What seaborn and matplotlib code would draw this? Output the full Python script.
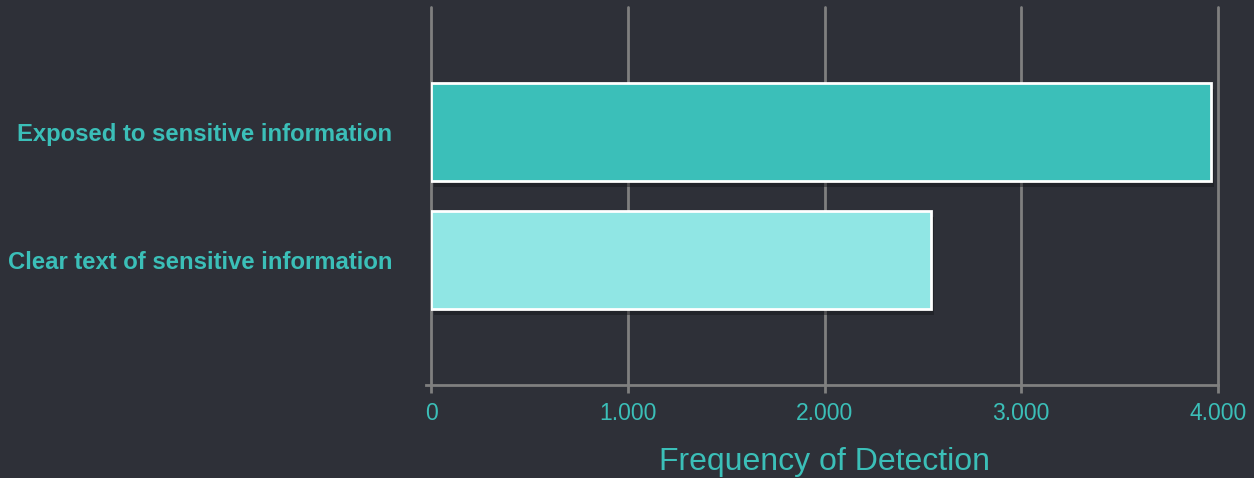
import matplotlib
matplotlib.use("Agg")
import matplotlib.pyplot as plt
import matplotlib.patheffects as pe
import seaborn as sns
import pandas as pd

categories = ["Exposed to sensitive information", "Clear text of sensitive information"]
values = [3964, 2540]
bar_colors = ["#3bbfb9", "#90e6e4"]
x_ticks = [0, 1000, 2000, 3000, 4000]
x_tick_labels = ["0", "1.000", "2.000", "3.000", "4.000"]
x_label = "Frequency of Detection"

BG = "#2e3038"
TEAL = "#3bbfb8"
GRID = "#7f7f7f"

sns.set_theme(style="dark")
plt.rcParams["font.family"] = ["Liberation Sans", "DejaVu Sans"]

df = pd.DataFrame({"category": categories, "value": values})

fig = plt.figure(figsize=(12.54, 4.78), dpi=100, facecolor=BG)
ax = fig.add_axes([431/1254, (478-385)/478, (1218-431)/1254, (385-7)/478])
ax.set_facecolor(BG)

sns.barplot(data=df, y="category", x="value", hue="category", palette=bar_colors,
            orient="h", width=0.766, legend=False, ax=ax, zorder=3, saturation=1,
            edgecolor="white", linewidth=2)

for p in ax.patches:
    p.set_path_effects([pe.SimplePatchShadow(offset=(2, -4), shadow_rgbFace="#15161a", alpha=0.45),
                        pe.Normal()])

ax.set_xlim(0, 4000)
ax.set_ylim(1.977, -0.977)
ax.set_xticks(x_ticks)
ax.set_xticklabels(x_tick_labels)
ax.grid(axis="x", color=GRID, linewidth=2, zorder=0)
ax.grid(axis="y", visible=False)
for gl in ax.get_xgridlines():
    gl.set_clip_on(False)
for s in ["top", "right", "left"]:
    ax.spines[s].set_visible(False)
ax.spines["bottom"].set_visible(True)
ax.spines["bottom"].set_color(GRID)
ax.spines["bottom"].set_linewidth(2)
ax.spines["bottom"].set_bounds(-25, 4000)

ax.tick_params(axis="x", colors=GRID, labelcolor=TEAL, labelsize=16.5, length=6, width=2,
               direction="out", bottom=True, pad=6)
ax.tick_params(axis="y", length=0, labelcolor=TEAL, labelsize=17.2, pad=28)
for lbl in ax.get_yticklabels():
    lbl.set_fontweight("bold")

ax.set_ylabel("")
ax.set_xlabel(x_label, color=TEAL, fontsize=23, labelpad=16)

fig.savefig("out.png", dpi=100, facecolor=BG)
